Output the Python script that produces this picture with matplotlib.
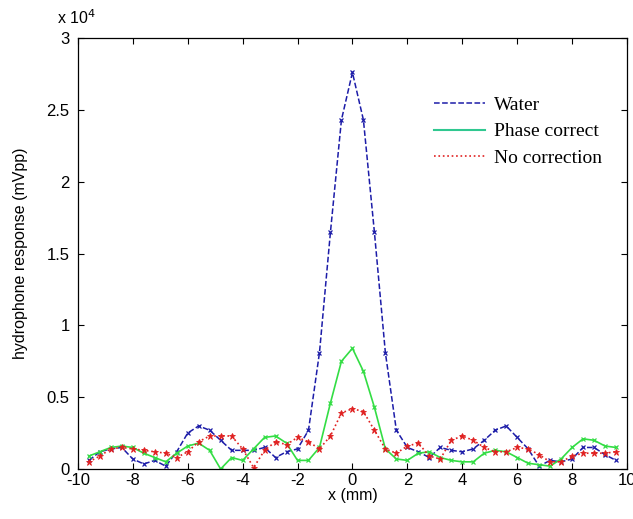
import numpy as np
import matplotlib.pyplot as plt
from matplotlib.ticker import FuncFormatter
from matplotlib.lines import Line2D

# posiciones de medida (mm)
x_mm = [-9.6, -9.2, -8.8, -8.4, -8.0, -7.6, -7.2, -6.8, -6.4, -6.0, -5.6, -5.2, -4.8,
        -4.4, -4.0, -3.6, -3.2, -2.8, -2.4, -2.0, -1.6, -1.2, -0.8, -0.4, 0.0,
        0.4, 0.8, 1.2, 1.6, 2.0, 2.4, 2.8, 3.2, 3.6, 4.0, 4.4, 4.8, 5.2, 5.6,
        6.0, 6.4, 6.8, 7.2, 7.6, 8.0, 8.4, 8.8, 9.2, 9.6]

# respuesta del hidrofono (mVpp)
water = [600, 1200, 1400, 1500, 700, 350, 600, 200, 1200, 2500, 3000, 2700, 2000,
         1300, 1300, 1300, 1500, 800, 1200, 1400, 2700, 8100, 16500, 24300, 27600,
         24300, 16500, 8100, 2700, 1500, 1200, 800, 1500, 1300, 1200, 1400, 2000, 2700, 3000,
         2200, 1400, 200, 600, 500, 700, 1500, 1500, 1000, 600]

phase_correct = [900, 1200, 1500, 1600, 1500, 1100, 800, 500, 1100, 1600, 1800, 1300, 0,
                 800, 600, 1400, 2200, 2300, 1800, 600, 600, 1500, 4600, 7500, 8400,
                 6800, 4300, 1400, 700, 600, 1100, 1200, 800, 600, 500, 500, 1100, 1300, 1200,
                 800, 400, 300, 200, 700, 1500, 2100, 2000, 1600, 1500]

no_correction = [500, 900, 1400, 1500, 1400, 1300, 1200, 1100, 800, 1200, 1900, 2300, 2300,
                 2300, 1400, 100, 1300, 1900, 1700, 2200, 1900, 1400, 2300, 3900, 4200,
                 4000, 2700, 1400, 1100, 1600, 1800, 900, 700, 2000, 2300, 2000, 1500, 1200, 1200,
                 1500, 1400, 1000, 500, 500, 900, 1100, 1100, 1100, 1200]

c_water = '#1c1ca8'
c_phase = '#33dd44'
c_none = '#e02020'

plt.rcParams['font.family'] = ['Liberation Sans', 'DejaVu Sans']
plt.rcParams['axes.unicode_minus'] = False

fig = plt.figure(figsize=(6.33, 5.19), dpi=100)
ax = fig.add_axes([0.123, 0.0963, 0.8675, 0.8305])

ax.plot(x_mm, water, '--', color=c_water, lw=1.1, marker='x', ms=3.5, mew=0.9)
ax.plot(x_mm, phase_correct, '-', color=c_phase, lw=1.2, marker='x', ms=3, mew=0.9)
ax.plot(x_mm, no_correction, ':', color=c_none, lw=1.2, marker='*', ms=4.5, mew=0.6)

ax.set_xlim(-10, 10)
ax.set_ylim(0, 30000)
ax.set_xticks(np.arange(-10, 11, 2))
ax.set_yticks(np.arange(0, 30001, 5000))
ax.yaxis.set_major_formatter(FuncFormatter(lambda v, p: '{:g}'.format(v / 1e4)))
ax.tick_params(direction='in', top=True, right=True, labelsize=12, length=4, width=0.8)
ax.tick_params(axis='y', pad=6)
ax.tick_params(axis='x', pad=3)
for s in ax.spines.values():
    s.set_linewidth(0.9)

ax.text(-0.038, 1.025, r'x 10$^4$', transform=ax.transAxes, fontsize=11.5, ha='left', va='bottom')

ax.set_xlabel('x (mm)', fontsize=11.5, labelpad=0)
ax.set_ylabel('hydrophone response (mVpp)', fontsize=11.5, labelpad=13)

handles = [Line2D([], [], color=c_water, ls='--', lw=1.1),
           Line2D([], [], color='#30c890', ls='-', lw=1.5),
           Line2D([], [], color=c_none, ls=':', lw=1.2)]
ax.legend(handles, ['Water', 'Phase correct', 'No correction'], loc='upper left',
          bbox_to_anchor=(0.617, 0.905), frameon=False, handlelength=2.6, handletextpad=0.5,
          labelspacing=0.45, prop={'family': 'Liberation Serif', 'size': 14})

fig.savefig('out.png', dpi=100)
